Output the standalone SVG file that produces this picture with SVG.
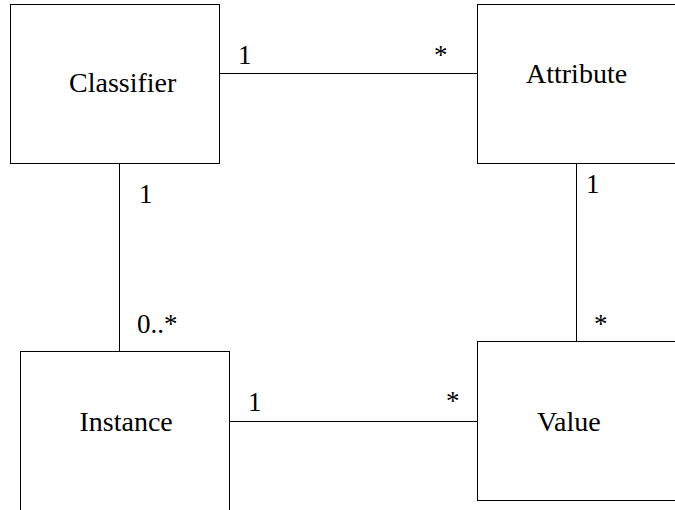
<svg xmlns="http://www.w3.org/2000/svg" width="675" height="510" viewBox="0 0 675 510">
<style>
.box{fill:#fff;stroke:#000;stroke-width:1}
.conn{stroke:#000;stroke-width:1;fill:none}
.name{font-family:"Times New Roman",Times,"Liberation Serif","Noto Serif","DejaVu Serif",Tinos,FreeSerif,serif;font-size:28px;fill:#000}
.lbl{font-family:"Times New Roman",Times,"Liberation Serif","Noto Serif","DejaVu Serif",Tinos,FreeSerif,serif;font-size:27px;fill:#000}
</style>
<rect width="675" height="510" fill="#fff"/>
<g id="connectors">
<line class="conn" x1="219.5" y1="73.5" x2="477.5" y2="73.5"/>
<line class="conn" x1="119.5" y1="163.5" x2="119.5" y2="351.5"/>
<line class="conn" x1="576.5" y1="163.5" x2="576.5" y2="341.5"/>
<line class="conn" x1="229.5" y1="421.5" x2="477.5" y2="421.5"/>
<text class="lbl" x="238" y="64">1</text>
<text class="lbl" x="434" y="64">*</text>
<text class="lbl" x="139" y="203">1</text>
<text class="lbl" x="137" y="333">0..*</text>
<text class="lbl" x="586" y="193">1</text>
<text class="lbl" x="594" y="333">*</text>
<text class="lbl" x="248" y="411">1</text>
<text class="lbl" x="446" y="410">*</text>
</g>
<g id="classifier">
<rect class="box" x="10.5" y="4.5" width="209" height="159"/>
<text class="name" x="69" y="92">Classifier</text>
</g>
<g id="attribute">
<rect class="box" x="477.5" y="4.5" width="220" height="159"/>
<text class="name" x="526" y="83">Attribute</text>
</g>
<g id="instance">
<rect class="box" x="20.5" y="351.5" width="209" height="200"/>
<text class="name" x="79.5" y="430.5">Instance</text>
</g>
<g id="value">
<rect class="box" x="477.5" y="341.5" width="220" height="159"/>
<text class="name" x="537" y="430.5">Value</text>
</g>
</svg>
